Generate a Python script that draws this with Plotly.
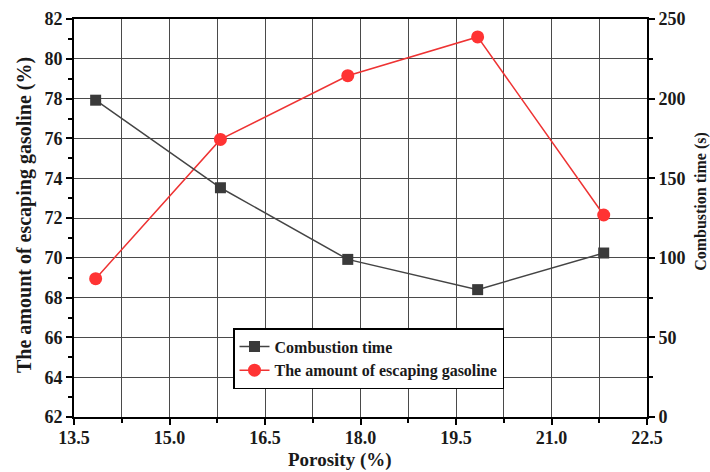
import plotly.graph_objects as go

porosity = [13.84, 15.8, 17.8, 19.84, 21.82]
combustion_time = [199, 144, 99, 80, 103]
escaping_gasoline = [68.95, 75.95, 79.15, 81.1, 72.15]

x_title = "Porosity (%)"
y_left_title = "The amount of escaping gasoline (%)"
y_right_title = "Combustion time (s)"

FONT = "Liberation Serif"
TXT = "#1a1a1a"

fig = go.Figure()
fig.add_trace(go.Scatter(
    x=porosity, y=combustion_time, name="Combustion time", yaxis="y2",
    mode="lines+markers",
    line=dict(color="#444444", width=1.5),
    marker=dict(symbol="square", size=11, color="#3a3a3a"),
    legendrank=1,
))
fig.add_trace(go.Scatter(
    x=porosity, y=escaping_gasoline, name="The amount of escaping gasoline",
    mode="lines+markers",
    line=dict(color="#ee3333", width=1.5),
    marker=dict(symbol="circle", size=13, color="#ff3333"),
    legendrank=2,
))

axis_common = dict(
    showline=True, linecolor="black", linewidth=2,
    ticks="outside", ticklen=6, tickwidth=1.5, tickcolor="black",
    tickfont=dict(family=FONT, size=18, color=TXT, weight="bold"),
    zeroline=False, automargin=False,
)

fig.update_layout(
    width=710, height=472,
    margin=dict(l=74, r=63, t=19, b=55),
    paper_bgcolor="white", plot_bgcolor="white",
    font=dict(family=FONT, color=TXT),
    xaxis=dict(
        range=[13.5, 22.5], tick0=13.5, dtick=1.5, tickformat=".1f",
        showgrid=True, gridcolor="#4a4a4a", gridwidth=1,
        minor=dict(dtick=0.75, tick0=13.5, showgrid=True, gridcolor="#4a4a4a", gridwidth=1,
                   ticks="outside", ticklen=4, tickcolor="black"),
        mirror=True, ticklabelstandoff=-3,
        **axis_common,
    ),
    yaxis=dict(
        range=[62, 82], tick0=62, dtick=2,
        showgrid=True, gridcolor="#4a4a4a", gridwidth=1,
        minor=dict(dtick=1, tick0=62, showgrid=False, ticks="outside", ticklen=4, tickcolor="black"),
        **axis_common,
    ),
    yaxis2=dict(
        range=[0, 250], tick0=0, dtick=50, overlaying="y", side="right",
        showgrid=False,
        minor=dict(dtick=25, tick0=0, showgrid=False, ticks="outside", ticklen=4, tickcolor="black"),
        **axis_common,
    ),
    legend=dict(
        x=0.2775, y=0.2236, xanchor="left", yanchor="top",
        bgcolor="white", bordercolor="black", borderwidth=1.5,
        font=dict(family=FONT, size=16, color=TXT, weight="bold"),
        traceorder="normal", tracegroupgap=0, itemwidth=30,
    ),
    showlegend=True,
    annotations=[
        dict(text=x_title, xref="paper", yref="paper", x=0.4642, y=-0.108,
             xanchor="center", yanchor="middle", showarrow=False,
             font=dict(family=FONT, size=19, color=TXT, weight="bold")),
        dict(text=y_left_title, xref="paper", yref="paper", x=-0.0873, y=0.5075,
             xanchor="center", yanchor="middle", showarrow=False, textangle=-90,
             font=dict(family=FONT, size=20, color=TXT, weight="bold")),
        dict(text=y_right_title, xref="paper", yref="paper", x=1.094, y=0.5427,
             xanchor="center", yanchor="middle", showarrow=False, textangle=-90,
             font=dict(family=FONT, size=16, color=TXT, weight="bold")),
    ],
)

fig.write_html("out.html", config={"displayModeBar": False},
               post_script="document.body.style.margin='0';document.body.style.overflow='hidden';")
